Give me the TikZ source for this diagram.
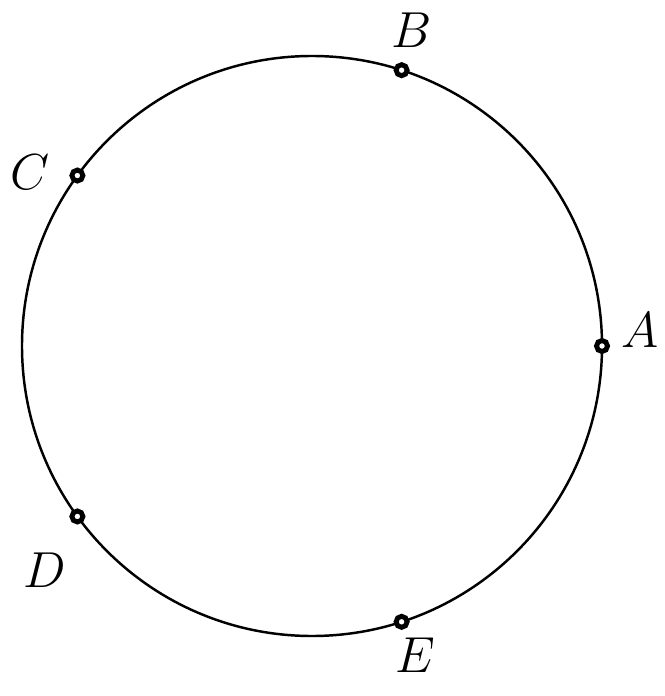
\documentclass[tikz,border=0pt]{standalone}
\usetikzlibrary{positioning}
\tikzset{
  pt/.style={circle, draw=black, fill=white, line width=1.4pt, inner sep=0pt, minimum size=0.11cm},
  lbl/.style={font=\fontsize{15}{18}\selectfont}
}

\begin{document}
\begin{tikzpicture}
    \useasboundingbox (-3.12,-3.50) rectangle (3.52,3.46);
    % 圆
    \draw[line width=0.7pt] (0,0) circle (2.9);

    % 圆上的点
    \node[pt] (A) at (0:2.9) {};
    \node[pt] (B) at (72:2.9) {};
    \node[pt] (C) at (144:2.9) {};
    \node[pt] (D) at (216:2.9) {};
    \node[pt] (E) at (288:2.9) {};

    % 标注
    \node[lbl] (lA) at (3.28,0.16) {$A$};
    \node[lbl] (lB) at (1.0,3.16) {$B$};
    \node[lbl] (lC) at (-2.82,1.74) {$C$};
    \node[lbl] (lD) at (-2.67,-2.24) {$D$};
    \node[lbl] (lE) at (1.03,-3.09) {$E$};
\end{tikzpicture}
\end{document}
